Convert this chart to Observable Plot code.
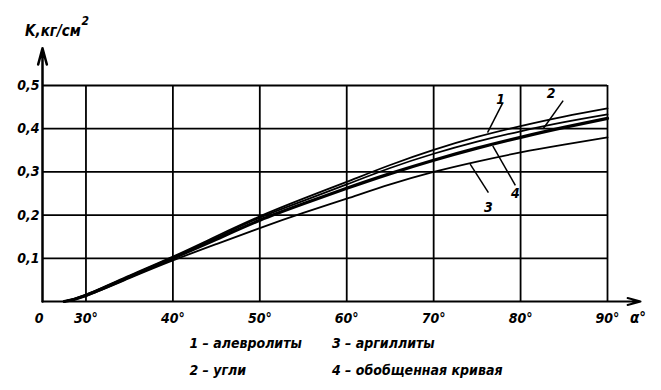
<!DOCTYPE html>
<html><head><meta charset="utf-8">
<script src="https://cdn.jsdelivr.net/npm/d3@7"></script>
<script src="https://cdn.jsdelivr.net/npm/@observablehq/plot@0.6"></script>
<style>
html,body{margin:0;padding:0;background:#fff;}
svg{font-family:"Liberation Sans Narrow","DejaVu Sans Condensed",sans-serif;font-style:italic;font-weight:bold;}
</style></head>
<body><div id="chart"></div>
<script>
// angle (degrees)
const angles = [27.5, 30, 35, 40, 45, 50, 55, 60, 65, 70, 75, 80, 85, 90];
// K, kg/cm^2
const curve1 = [0, 0.016, 0.060, 0.104, 0.151, 0.197, 0.238, 0.277, 0.316, 0.351, 0.381, 0.406, 0.428, 0.447]; // алевролиты
const curve2 = [0, 0.015, 0.058, 0.102, 0.148, 0.194, 0.233, 0.271, 0.309, 0.342, 0.370, 0.394, 0.415, 0.433]; // угли
const curve3 = [0, 0.013, 0.054, 0.095, 0.133, 0.170, 0.205, 0.238, 0.271, 0.300, 0.324, 0.345, 0.363, 0.380]; // аргиллиты
const curve4 = [0, 0.014, 0.057, 0.100, 0.144, 0.188, 0.226, 0.262, 0.296, 0.327, 0.355, 0.380, 0.403, 0.424]; // обобщенная
const curveIds = ["1", "2", "3", "4"];
const legendItems = ["1 – алевролиты", "2 – угли", "3 – аргиллиты", "4 – обобщенная кривая"];
const xTicks = [30, 40, 50, 60, 70, 80, 90];
const xTickLabels = ["30°", "40°", "50°", "60°", "70°", "80°", "90°"];
const yTicks = [0.1, 0.2, 0.3, 0.4, 0.5];
const yTickLabels = ["0,1", "0,2", "0,3", "0,4", "0,5"];
const yTitle = "K,кг/см";
const xTitle = "α°";

const series = [curve1, curve2, curve3, curve4];
const rows = [];
series.forEach((vals, i) => vals.forEach((v, j) => rows.push({id: curveIds[i], x: angles[j], y: v})));

// curve-number leaders, in data units
const leaders = [
  {t: "1", tx: 77.7, ty: 0.468, x1: 77.9, y1: 0.458, x2: 76.2, y2: 0.391},
  {t: "2", tx: 83.5, ty: 0.482, x1: 84.9, y1: 0.465, x2: 82.6, y2: 0.400},
  {t: "4", tx: 79.4, ty: 0.250, x1: 76.8, y1: 0.360, x2: 79.4, y2: 0.269},
  {t: "3", tx: 76.3, ty: 0.218, x1: 74.2, y1: 0.318, x2: 76.3, y2: 0.252}
];

const fs = 14;
const chart = Plot.plot({
  width: 661, height: 390,
  marginLeft: 0, marginRight: 0, marginTop: 0, marginBottom: 0,
  x: {domain: [25, 90], range: [42, 607], axis: null},
  y: {domain: [0, 0.5], range: [301, 85], axis: null},
  marks: [
    Plot.ruleX(xTicks, {y1: 0, y2: 0.5, stroke: "#000", strokeWidth: 1.8}),
    Plot.ruleY(yTicks, {x1: 25, x2: 90, stroke: "#000", strokeWidth: 1.8}),
    Plot.arrow([{a: 25, b: 0, c: 93.8, d: 0}], {x1: "a", y1: "b", x2: "c", y2: "d", stroke: "#000", strokeWidth: 2, headLength: 10, headAngle: 30}),
    Plot.arrow([{a: 25, b: 0, c: 25, d: 0.586}], {x1: "a", y1: "b", x2: "c", y2: "d", stroke: "#000", strokeWidth: 2.5, headLength: 10, headAngle: 30}),
    Plot.line(rows.filter(d => d.id !== "4"), {x: "x", y: "y", z: "id", curve: "natural", stroke: "#000", strokeWidth: 1.8}),
    Plot.line(rows.filter(d => d.id === "4"), {x: "x", y: "y", curve: "natural", stroke: "#000", strokeWidth: 3.2}),
    Plot.link(leaders, {x1: "x1", y1: "y1", x2: "x2", y2: "y2", stroke: "#000", strokeWidth: 1.5}),
    Plot.text(leaders, {x: "tx", y: "ty", text: "t", fontSize: 14, fill: "#000"}),
    Plot.text(yTicks, {x: 25, y: d => d, text: (d, i) => yTickLabels[i], textAnchor: "end", dx: -3, fontSize: fs, fill: "#000"}),
    Plot.text(xTicks, {x: d => d, y: 0, text: (d, i) => xTickLabels[i], dy: 17, fontSize: fs, fill: "#000"}),
    Plot.text(["0"], {x: 24.6, y: 0, dy: 17, fontSize: fs, fill: "#000"}),
    Plot.text([xTitle], {x: 93.5, y: 0, dy: 17, fontSize: fs + 1, fill: "#000"}),
    Plot.text([yTitle], {x: 23, y: 0.626, textAnchor: "start", fontSize: fs + 1, fill: "#000"}),
    Plot.text(["2"], {x: 29.5, y: 0.648, textAnchor: "start", fontSize: fs - 2, fill: "#000"}),
    Plot.text(legendItems, {
      x: (d, i) => i < 2 ? 41.9 : 58.3,
      y: (d, i) => i % 2 === 0 ? -0.097 : -0.160,
      textAnchor: "start", fontSize: fs, fill: "#000"
    })
  ]
});
document.getElementById("chart").appendChild(chart);
</script></body></html>
